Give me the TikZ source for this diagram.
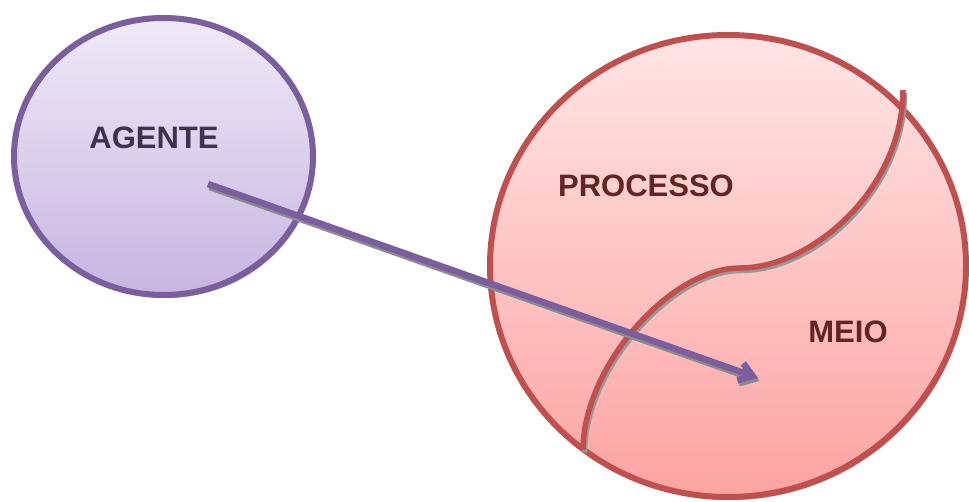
\documentclass[tikz,border=0pt]{standalone}
\usepackage{fontspec}
\setmainfont{Liberation Sans}
\usetikzlibrary{shapes.geometric,shadows,arrows.meta}
\definecolor{roxoborda}{HTML}{7A5E9E}
\definecolor{roxotexto}{HTML}{3F3151}
\definecolor{roxoalto}{HTML}{EFEAF7}
\definecolor{roxobaixo}{HTML}{C7B5E1}
\definecolor{vermborda}{HTML}{C0504D}
\definecolor{vermtexto}{HTML}{632523}
\definecolor{vermalto}{HTML}{FFE5E5}
\definecolor{vermbaixo}{HTML}{FCA4A2}
\newcommand{\rotulo}[5]{\node[font=\bfseries\fontsize{31}{31}\selectfont, anchor=base, inner sep=0pt, text=#5] (#1) at ( #2 , #3 ) {#4};}

\begin{document}
\begin{tikzpicture}[x=1pt,y=-1pt,
    sombra/.style={drop shadow={shadow xshift=2pt, shadow yshift=-3pt, fill=black, opacity=0.4}},
    elipse/.style={ellipse, inner sep=0pt, outer sep=0pt, line width=6pt, sombra}]
        \useasboundingbox (0,0) rectangle (969,502);

        % circulos
        \node[elipse, draw=roxoborda, top color=roxoalto, bottom color=roxobaixo,
              minimum width=299pt, minimum height=277pt] (agente) at (163.5,156.5) {};
        \node[elipse, draw=vermborda, top color=vermalto, bottom color=vermbaixo,
              minimum width=476pt, minimum height=462pt] (processo) at (728,266) {};

        % divisao processo / meio
        \coordinate (topo) at (903,90);
        \coordinate (meio) at (740,268);
        \coordinate (base) at (583,450);
        \draw[line width=5.5pt, black!40, transform canvas={shift={(1.5pt,-2.5pt)}}]
            (topo) .. controls (903,188) and (813,268) .. (meio)
                   .. controls (669,268) and (583,368) .. (base);
        \draw[line width=5.5pt, vermborda]
            (topo) .. controls (903,188) and (813,268) .. (meio)
                   .. controls (669,268) and (583,368) .. (base);

        % rotulos
        \rotulo{ag}{154}{149}{AGENTE}{roxotexto}
        \rotulo{pr}{646}{197}{PROCESSO}{vermtexto}
        \rotulo{me}{848}{343}{MEIO}{vermtexto}

        % seta
        \coordinate (inicio) at (208,184);
        \coordinate (fim) at (758,378);
        \draw[line width=6.5pt, black!45, -{Straight Barb[length=13pt,width=18pt]},
              transform canvas={shift={(1.5pt,-3pt)}}] (inicio) -- (fim);
        \draw[line width=6.5pt, roxoborda, -{Straight Barb[length=13pt,width=18pt]}] (inicio) -- (fim);
    \end{tikzpicture}
\end{document}
